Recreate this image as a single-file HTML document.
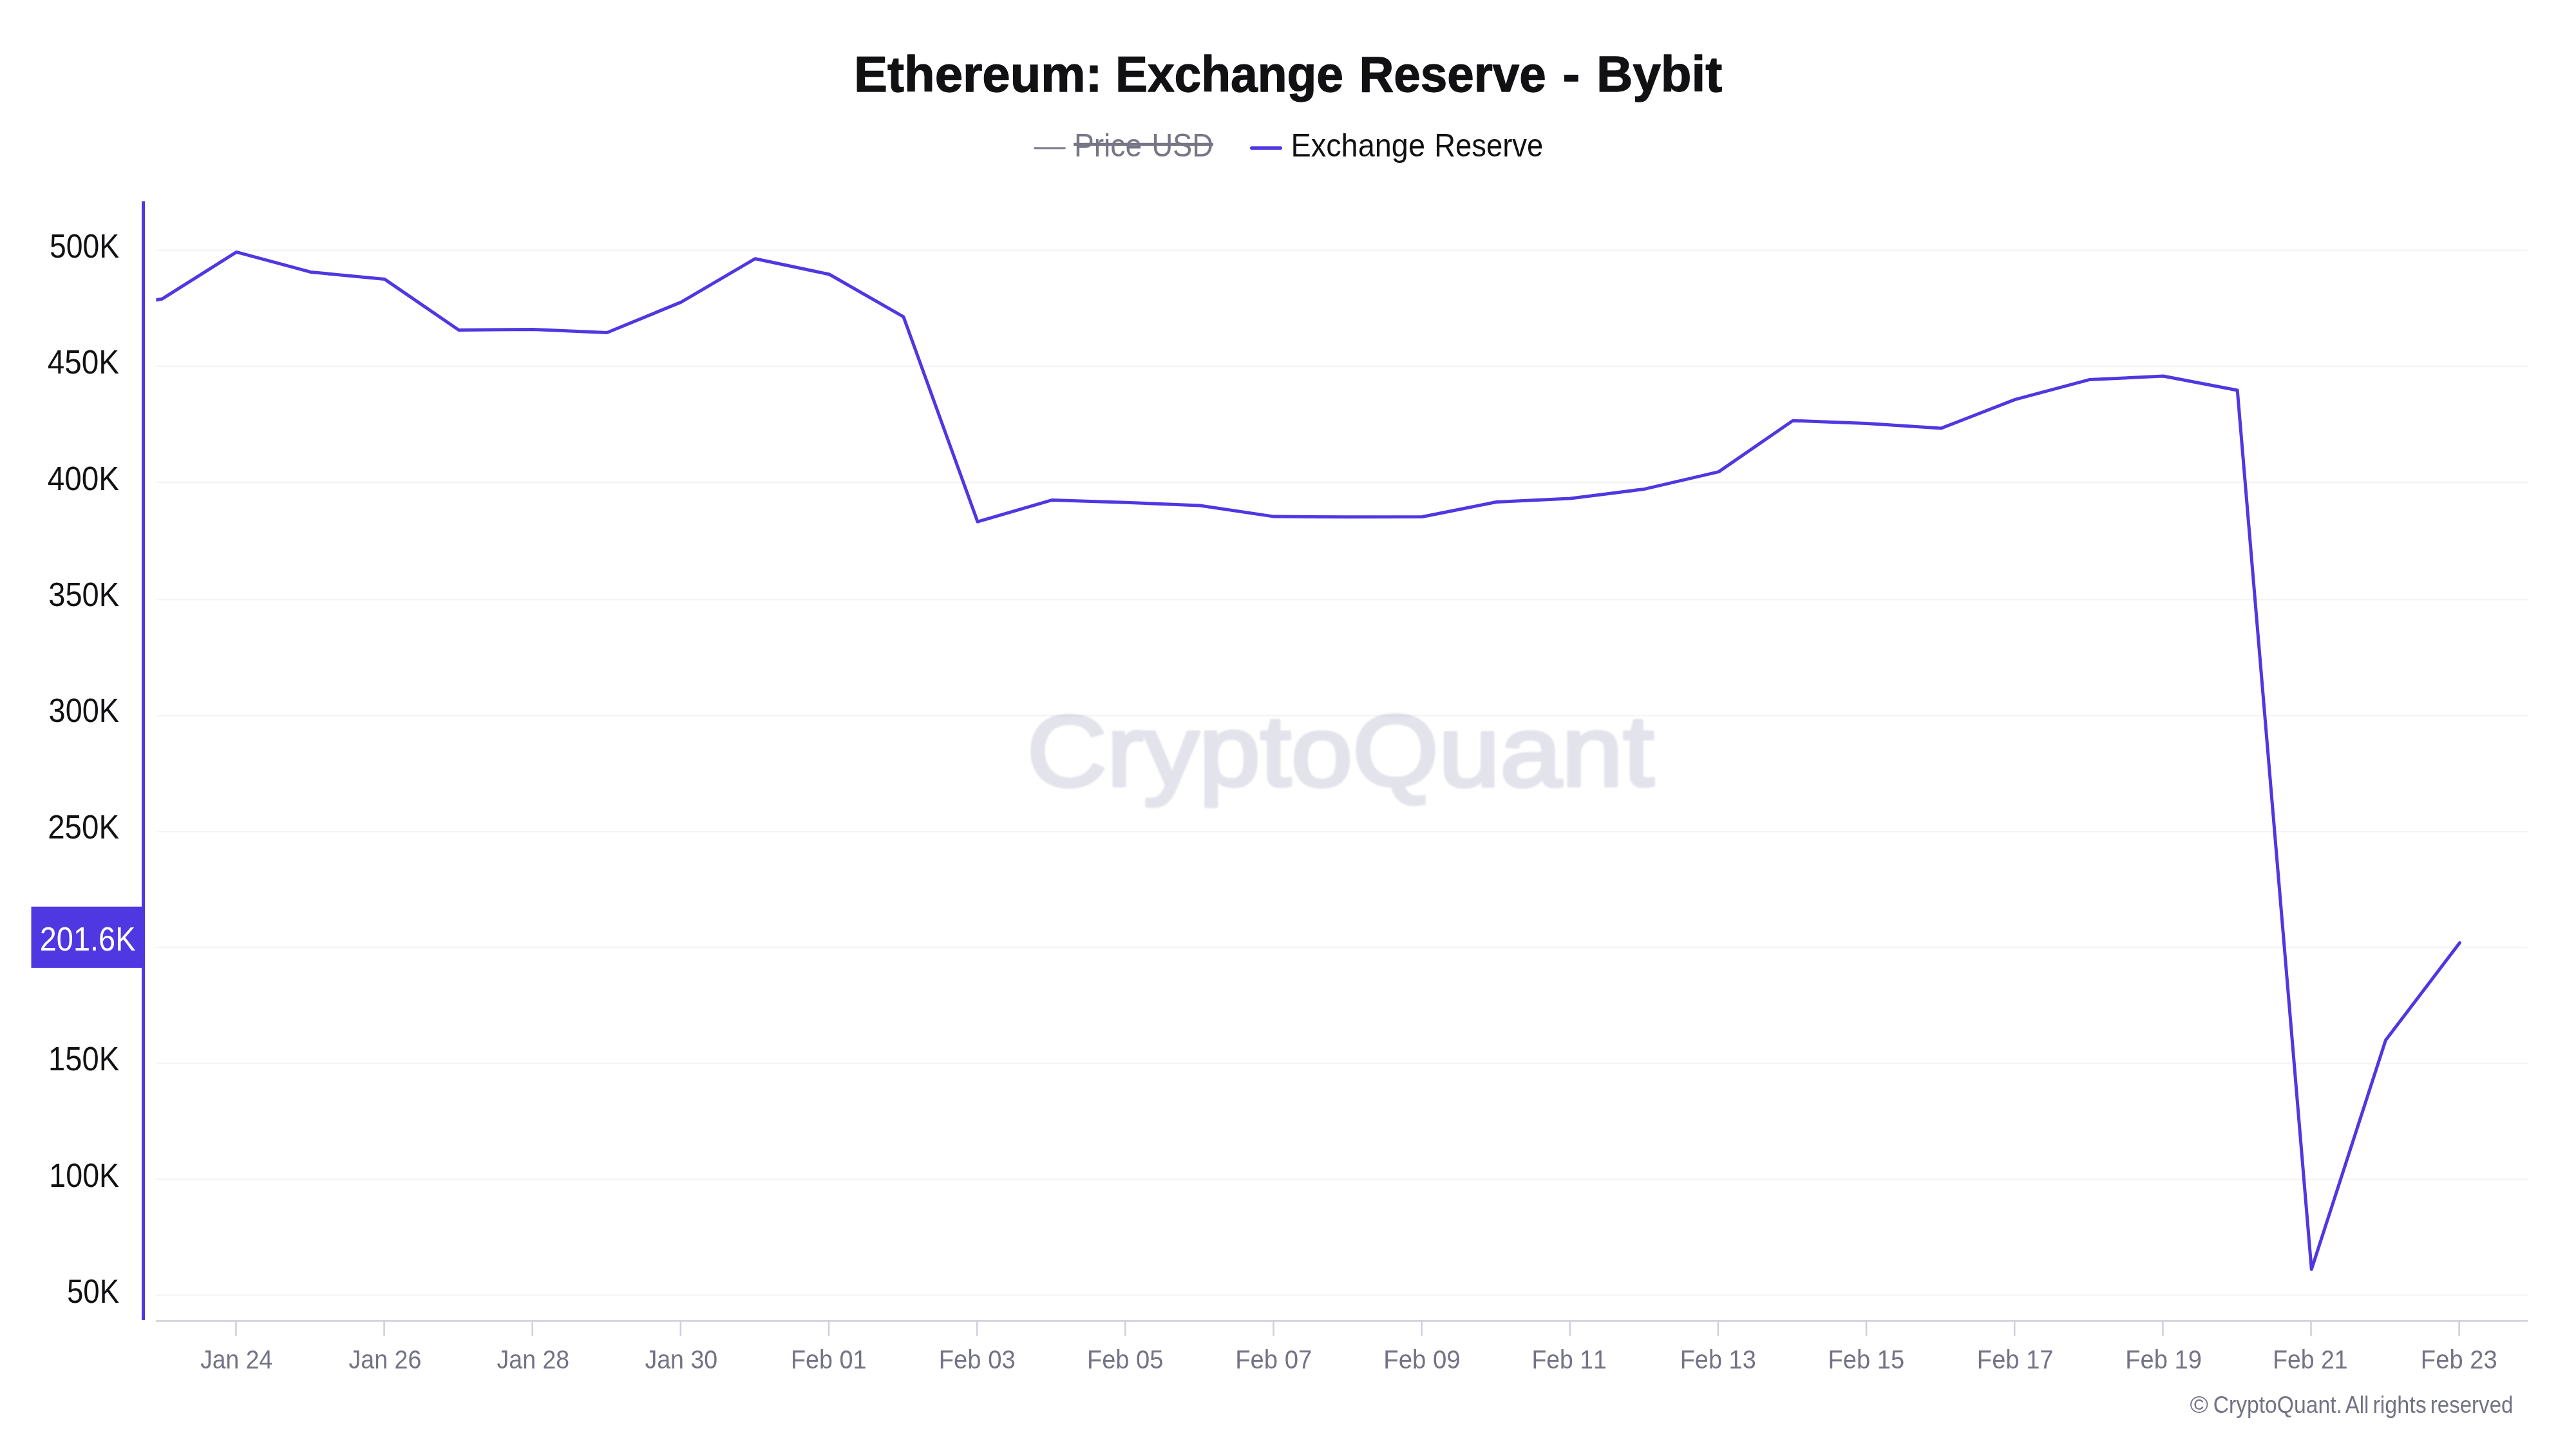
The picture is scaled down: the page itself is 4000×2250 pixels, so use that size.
<!DOCTYPE html>
<html lang="en"><head><meta charset="utf-8"><title>Ethereum: Exchange Reserve - Bybit</title>
<style>html,body{margin:0;padding:0;background:#fff;}body{width:4000px;height:2250px;overflow:hidden;}svg{display:block;will-change:transform;}text{font-family:"Liberation Sans", Arial, sans-serif;font-kerning:none;}</style></head><body>
<svg width="4000" height="2250" viewBox="0 0 4000 2250">
<rect width="4000" height="2250" fill="#fff"/>
<rect x="242.3" y="387.6" width="3682.7" height="2.4" fill="#f4f4f7"/>
<rect x="242.3" y="567.6" width="3682.7" height="2.4" fill="#f4f4f7"/>
<rect x="242.3" y="747.6" width="3682.7" height="2.4" fill="#f4f4f7"/>
<rect x="242.3" y="930.0" width="3682.7" height="2.4" fill="#f4f4f7"/>
<rect x="242.3" y="1110.0" width="3682.7" height="2.4" fill="#f4f4f7"/>
<rect x="242.3" y="1290.0" width="3682.7" height="2.4" fill="#f4f4f7"/>
<rect x="242.3" y="1470.0" width="3682.7" height="2.4" fill="#f4f4f7"/>
<rect x="242.3" y="1650.0" width="3682.7" height="2.4" fill="#f4f4f7"/>
<rect x="242.3" y="1830.0" width="3682.7" height="2.4" fill="#f4f4f7"/>
<rect x="242.3" y="2010.0" width="3682.7" height="2.4" fill="#f4f4f7"/>
<defs><filter id="soft" x="-2%" y="-10%" width="104%" height="120%"><feGaussianBlur stdDeviation="1.1"/></filter><clipPath id="plot"><rect x="242.4" y="300" width="3700" height="1760"/></clipPath></defs>
<text y="1220.2" font-size="155.00" fill="#5a5a8c" stroke="#5a5a8c" stroke-width="5.5" stroke-linejoin="round" opacity="0.165" filter="url(#soft)"><tspan x="1594.43" textLength="973.68" lengthAdjust="spacingAndGlyphs">CryptoQuant</tspan></text>
<rect x="242.3" y="2050.0" width="3682.7" height="2.6" fill="#d1d0dc"/>
<rect x="365.10" y="2051" width="2.6" height="23.8" fill="#d1d0dc"/>
<text x="311.22" y="2124.8" font-size="40.60" fill="#737385" textLength="111.98" lengthAdjust="spacingAndGlyphs">Jan 24</text>
<rect x="595.25" y="2051" width="2.6" height="23.8" fill="#d1d0dc"/>
<text x="541.41" y="2124.8" font-size="40.60" fill="#737385" textLength="112.94" lengthAdjust="spacingAndGlyphs">Jan 26</text>
<rect x="825.40" y="2051" width="2.6" height="23.8" fill="#d1d0dc"/>
<text x="771.61" y="2124.8" font-size="40.60" fill="#737385" textLength="112.51" lengthAdjust="spacingAndGlyphs">Jan 28</text>
<rect x="1055.55" y="2051" width="2.6" height="23.8" fill="#d1d0dc"/>
<text x="1001.41" y="2124.8" font-size="40.60" fill="#737385" textLength="112.75" lengthAdjust="spacingAndGlyphs">Jan 30</text>
<rect x="1285.70" y="2051" width="2.6" height="23.8" fill="#d1d0dc"/>
<text x="1227.90" y="2124.8" font-size="40.60" fill="#737385" textLength="117.54" lengthAdjust="spacingAndGlyphs">Feb 01</text>
<rect x="1515.85" y="2051" width="2.6" height="23.8" fill="#d1d0dc"/>
<text x="1457.77" y="2124.8" font-size="40.60" fill="#737385" textLength="118.91" lengthAdjust="spacingAndGlyphs">Feb 03</text>
<rect x="1746.00" y="2051" width="2.6" height="23.8" fill="#d1d0dc"/>
<text x="1687.88" y="2124.8" font-size="40.60" fill="#737385" textLength="118.52" lengthAdjust="spacingAndGlyphs">Feb 05</text>
<rect x="1976.15" y="2051" width="2.6" height="23.8" fill="#d1d0dc"/>
<text x="1918.16" y="2124.8" font-size="40.60" fill="#737385" textLength="119.16" lengthAdjust="spacingAndGlyphs">Feb 07</text>
<rect x="2206.30" y="2051" width="2.6" height="23.8" fill="#d1d0dc"/>
<text x="2148.25" y="2124.8" font-size="40.60" fill="#737385" textLength="119.47" lengthAdjust="spacingAndGlyphs">Feb 09</text>
<rect x="2436.45" y="2051" width="2.6" height="23.8" fill="#d1d0dc"/>
<text x="2378.54" y="2124.8" font-size="40.60" fill="#737385" textLength="116.29" lengthAdjust="spacingAndGlyphs">Feb 11</text>
<rect x="2666.60" y="2051" width="2.6" height="23.8" fill="#d1d0dc"/>
<text x="2608.69" y="2124.8" font-size="40.60" fill="#737385" textLength="118.08" lengthAdjust="spacingAndGlyphs">Feb 13</text>
<rect x="2896.75" y="2051" width="2.6" height="23.8" fill="#d1d0dc"/>
<text x="2838.47" y="2124.8" font-size="40.60" fill="#737385" textLength="118.83" lengthAdjust="spacingAndGlyphs">Feb 15</text>
<rect x="3126.90" y="2051" width="2.6" height="23.8" fill="#d1d0dc"/>
<text x="3069.87" y="2124.8" font-size="40.60" fill="#737385" textLength="118.69" lengthAdjust="spacingAndGlyphs">Feb 17</text>
<rect x="3357.05" y="2051" width="2.6" height="23.8" fill="#d1d0dc"/>
<text x="3300.27" y="2124.8" font-size="40.60" fill="#737385" textLength="118.73" lengthAdjust="spacingAndGlyphs">Feb 19</text>
<rect x="3587.20" y="2051" width="2.6" height="23.8" fill="#d1d0dc"/>
<text x="3529.23" y="2124.8" font-size="40.60" fill="#737385" textLength="116.39" lengthAdjust="spacingAndGlyphs">Feb 21</text>
<rect x="3817.35" y="2051" width="2.6" height="23.8" fill="#d1d0dc"/>
<text x="3758.87" y="2124.8" font-size="40.60" fill="#737385" textLength="118.81" lengthAdjust="spacingAndGlyphs">Feb 23</text>
<rect x="220" y="312.4" width="5" height="1737.6" fill="#4f37e2"/>
<text x="76.89" y="399.8" font-size="52.00" fill="#111114" textLength="108.23" lengthAdjust="spacingAndGlyphs">500K</text>
<text x="73.81" y="580.2" font-size="52.00" fill="#111114" textLength="111.33" lengthAdjust="spacingAndGlyphs">450K</text>
<text x="73.81" y="760.5" font-size="52.00" fill="#111114" textLength="111.33" lengthAdjust="spacingAndGlyphs">400K</text>
<text x="75.21" y="940.9" font-size="52.00" fill="#111114" textLength="109.92" lengthAdjust="spacingAndGlyphs">350K</text>
<text x="75.61" y="1121.2" font-size="52.00" fill="#111114" textLength="109.51" lengthAdjust="spacingAndGlyphs">300K</text>
<text x="74.21" y="1301.6" font-size="52.00" fill="#111114" textLength="110.92" lengthAdjust="spacingAndGlyphs">250K</text>
<text x="75.01" y="1662.3" font-size="52.00" fill="#111114" textLength="110.12" lengthAdjust="spacingAndGlyphs">150K</text>
<text x="76.35" y="1842.7" font-size="52.00" fill="#111114" textLength="108.77" lengthAdjust="spacingAndGlyphs">100K</text>
<text x="103.97" y="2023.0" font-size="52.00" fill="#111114" textLength="81.14" lengthAdjust="spacingAndGlyphs">50K</text>
<rect x="48.5" y="1407.8" width="174" height="95.1" fill="#4f37e2"/>
<text y="1476.0" font-size="52.00" fill="#fff"><tspan x="61.74" textLength="148.79" lengthAdjust="spacingAndGlyphs">201.6K</tspan></text>
<polyline points="238.0,466.6 252.1,464.0 367.2,391.4 482.3,422.4 597.4,433.6 712.4,512.5 827.5,511.6 942.6,516.5 1057.7,469.1 1172.7,401.7 1287.8,426.0 1402.9,491.8 1518.0,810.1 1633.0,776.6 1748.1,780.2 1863.2,785.0 1978.2,802.1 2093.3,802.8 2208.4,802.5 2323.5,779.5 2438.5,774.1 2553.6,759.4 2668.7,732.6 2783.8,653.2 2898.8,657.4 3013.9,665.1 3129.0,620.4 3244.1,589.6 3359.2,584.0 3474.2,606.0 3589.3,1971.0 3704.4,1615.3 3819.4,1464.0" fill="none" stroke="#4f37e2" stroke-width="5" stroke-linejoin="round" stroke-linecap="round" clip-path="url(#plot)"/>
<text y="142.3" font-size="78.00" fill="#111114" font-weight="bold" stroke="#111114" stroke-width="1.3" stroke-linejoin="round"><tspan x="1326.09" textLength="385.46" lengthAdjust="spacingAndGlyphs">Ethereum:</tspan> <tspan x="1731.94" textLength="354.08" lengthAdjust="spacingAndGlyphs">Exchange</tspan> <tspan x="2110.41" textLength="290.39" lengthAdjust="spacingAndGlyphs">Reserve</tspan> <tspan x="2426.41" textLength="26.76" lengthAdjust="spacingAndGlyphs">-</tspan> <tspan x="2479.02" textLength="195.28" lengthAdjust="spacingAndGlyphs">Bybit</tspan></text>
<line x1="1606.7" y1="230" x2="1653.3" y2="230" stroke="#767687" stroke-width="3" stroke-linecap="round"/>
<text y="242.9" font-size="50.80" fill="#767687"><tspan x="1667.91" textLength="105.24" lengthAdjust="spacingAndGlyphs">Price</tspan> <tspan x="1788.40" textLength="95.66" lengthAdjust="spacingAndGlyphs">USD</tspan></text>
<rect x="1667" y="221.8" width="216.8" height="5" fill="#767687"/>
<line x1="1943.7" y1="230" x2="1988.3" y2="230" stroke="#4f37e2" stroke-width="5.4" stroke-linecap="round"/>
<text y="243.0" font-size="50.80" fill="#111114"><tspan x="2004.45" textLength="208.53" lengthAdjust="spacingAndGlyphs">Exchange</tspan> <tspan x="2227.18" textLength="169.04" lengthAdjust="spacingAndGlyphs">Reserve</tspan></text>
<text y="2194.0" font-size="37.00" fill="#737385"><tspan x="3400.51" textLength="28.49" lengthAdjust="spacingAndGlyphs">©</tspan> <tspan x="3436.69" textLength="200.18" lengthAdjust="spacingAndGlyphs">CryptoQuant.</tspan> <tspan x="3641.84" textLength="36.57" lengthAdjust="spacingAndGlyphs">All</tspan> <tspan x="3684.44" textLength="83.29" lengthAdjust="spacingAndGlyphs">rights</tspan> <tspan x="3773.80" textLength="128.63" lengthAdjust="spacingAndGlyphs">reserved</tspan></text>
</svg></body></html>
